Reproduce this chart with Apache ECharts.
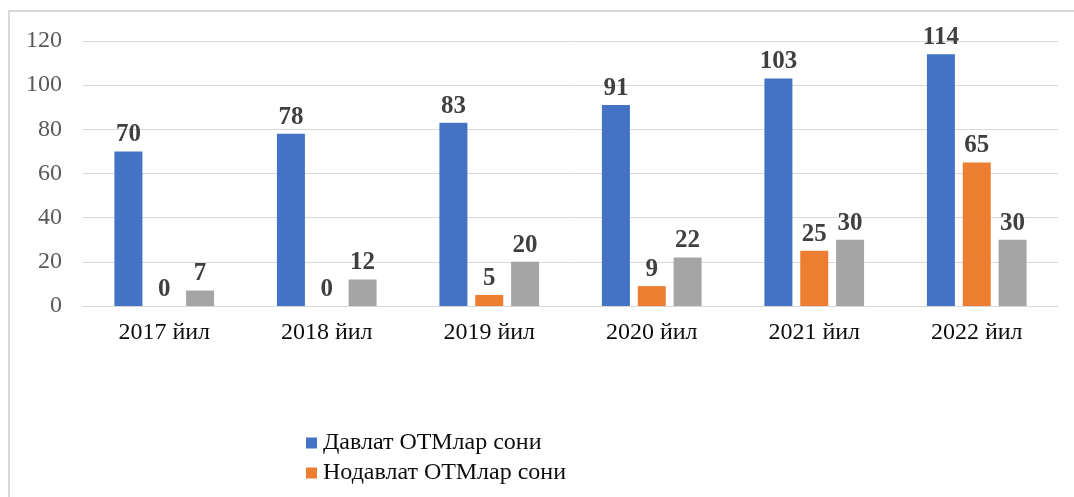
<!DOCTYPE html>
<html><head><meta charset="utf-8">
<script src="https://cdn.jsdelivr.net/npm/echarts@6/dist/echarts.min.js"></script>
<style>html,body{margin:0;padding:0;background:#fff}#c{width:1074px;height:497px}</style>
</head><body><div id="c"></div>
<script>
const categories = ['2017 йил','2018 йил','2019 йил','2020 йил','2021 йил','2022 йил'];
const seriesNames = ['Давлат ОТМлар сони','Нодавлат ОТМлар сони','Хорижий ОТМлар филиаллари сони'];
const davlat = [70, 78, 83, 91, 103, 114];
const nodavlat = [0, 0, 5, 9, 25, 65];
const xorijiy = [7, 12, 20, 22, 30, 30];
const colors = ['#4472C4','#ED7D31','#A5A5A5'];
const font = '"Liberation Serif","Times New Roman",serif';

const chart = echarts.init(document.getElementById('c'), null, {renderer:'canvas'});
const mk = (name, data, color) => ({
  name, type:'bar', data, barWidth:28, barGap:'28%',
  itemStyle:{color},
  label:{show:true, position:'top', distance:4, fontFamily:font, fontSize:25, fontWeight:'bold', color:'#404040'}
});
chart.setOption({
  animation:false,
  textStyle:{fontFamily:font},
  graphic:[{type:'rect', shape:{x:9, y:11, width:1300, height:700}, style:{fill:null, stroke:'#d9d9d9', lineWidth:2}, silent:true}],
  grid:{left:83, right:16, top:41, bottom:191},
  legend:{orient:'vertical', left:301, top:426, height:200, itemWidth:11, itemHeight:11, itemGap:6,
    icon:'rect', textStyle:{fontFamily:font, fontSize:24, color:'#0d0d0d', padding:[0,0,0,1]},
    data: seriesNames.slice(0, 2)},
  xAxis:{type:'category', data:categories,
    axisLine:{lineStyle:{color:'#d9d9d9', width:1}}, axisTick:{show:false},
    axisLabel:{fontFamily:font, fontSize:24, color:'#0d0d0d', margin:15}},
  yAxis:{type:'value', min:0, max:120, interval:20,
    axisLine:{show:false}, axisTick:{show:false},
    splitLine:{lineStyle:{color:'#d9d9d9', width:1}},
    axisLabel:{fontFamily:font, fontSize:24, color:'#595959', margin:21}},
  series:[mk(seriesNames[0], davlat, colors[0]), mk(seriesNames[1], nodavlat, colors[1]), mk(seriesNames[2], xorijiy, colors[2])]
});
</script></body></html>
